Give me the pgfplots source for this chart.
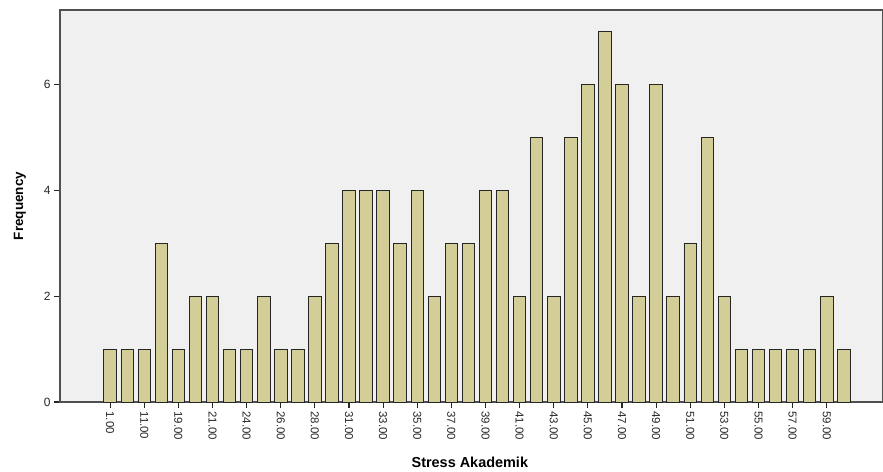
\documentclass[border=0pt]{standalone}
\usepackage{pgfplots}
\pgfplotsset{compat=1.18}
\usepackage{fontspec}
\setmainfont{Liberation Sans}
\definecolor{barfill}{RGB}{211,206,151}
\definecolor{plotbg}{RGB}{240,240,240}
\definecolor{axisgray}{RGB}{80,80,80}
\begin{document}
\begin{tikzpicture}
\useasboundingbox (0,0) rectangle (883bp,472bp);
\begin{axis}[
  at={(60bp,70bp)}, anchor=south west,
  scale only axis,
  width=823bp, height=392bp,
  xmin=-2.94, xmax=45.3,
  ymin=0, ymax=7.4,
  axis background/.style={fill=plotbg},
  axis line style={axisgray, line width=1.2pt},
  ytick={0,2,4,6},
  xtick={0,2,...,42},
  xticklabels={1.00,11.00,19.00,21.00,24.00,26.00,28.00,31.00,33.00,35.00,37.00,39.00,41.00,43.00,45.00,47.00,49.00,51.00,53.00,55.00,57.00,59.00},
  tick align=outside,
  major tick length=6bp,
  tick style={black!85, line width=1.1pt},
  xtick pos=bottom, ytick pos=left,
  xticklabel style={rotate=-90, anchor=west, font=\fontsize{11.5}{12}\selectfont, text=black!85},
  yticklabel style={font=\fontsize{12}{13}\selectfont, text=black!85},
  /pgf/number format/assume math mode=true,
  ylabel={\textbf{Frequency}},
  ylabel style={at={(axis description cs:-0.0486,0.5)}, anchor=center, font=\fontsize{13.5}{15}\selectfont},
  xlabel={\textbf{Stress Akademik}},
  xlabel style={at={(axis description cs:0.498,-0.153)}, anchor=center, font=\fontsize{14.5}{16}\selectfont},
  ybar, bar width=12.5bp,
  clip=false,
]
\addplot[fill=barfill, draw=black!85, line width=0.9pt] coordinates {
(0,1) (1,1) (2,1) (3,3) (4,1) (5,2) (6,2) (7,1) (8,1) (9,2)
(10,1) (11,1) (12,2) (13,3) (14,4) (15,4) (16,4) (17,3) (18,4) (19,2)
(20,3) (21,3) (22,4) (23,4) (24,2) (25,5) (26,2) (27,5) (28,6) (29,7)
(30,6) (31,2) (32,6) (33,2) (34,3) (35,5) (36,2) (37,1) (38,1) (39,1)
(40,1) (41,1) (42,2) (43,1)
};
\end{axis}
\end{tikzpicture}
\end{document}
